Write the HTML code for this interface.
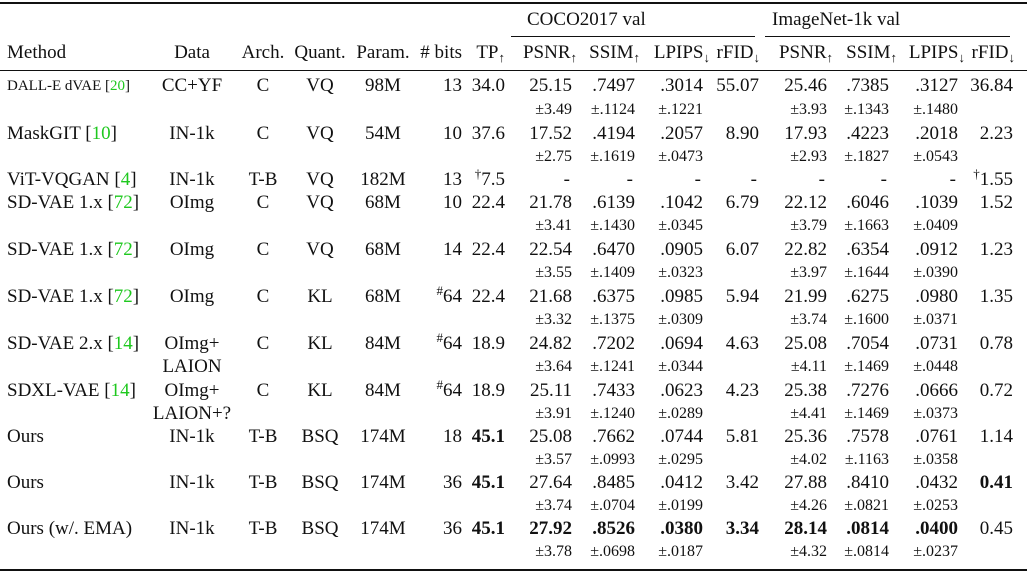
<!DOCTYPE html>
<html><head><meta charset="utf-8"><style>
body{margin:0;background:#fff;width:1027px;height:573px;position:relative;overflow:hidden;font-family:"Liberation Serif",serif;color:#111;}
.rule{position:absolute;background:#111;}
.row{position:absolute;left:0;width:1027px;height:0;}
.row div{position:absolute;top:-11px;height:22px;line-height:22px;white-space:nowrap;font-size:19px;}
.pm div{font-size:16px;}
.m{left:7px}
.da{left:192px;transform:translateX(-50%)}
.ar{left:263px;transform:translateX(-50%)}
.qu{left:320px;transform:translateX(-50%)}
.pa{left:383px;transform:translateX(-50%)}
.bi{right:565px}.tp{right:522px}
.a1{right:455px}.a2{right:392px}.a3{right:324px}.a4{right:268px}
.b1{right:200px}.b2{right:138px}.b3{right:69px}.b4{right:14px}
.g{color:#1ec81e}
b{font-weight:bold}
sub,sup{line-height:0;position:relative;vertical-align:baseline}
sub{font-size:13px;top:4px}
sup{font-size:13px;top:-7px}
.sm{font-size:15px !important}
</style></head><body>
<div class="rule" style="left:0;top:2px;width:1027px;height:2px"></div>
<div class="rule" style="left:511px;top:36px;width:244px;height:1px"></div>
<div class="rule" style="left:765px;top:36px;width:245px;height:1px"></div>
<div class="rule" style="left:0;top:70px;width:1027px;height:1px"></div>
<div class="rule" style="left:0;top:569px;width:1027px;height:2px"></div>

<div class="row" style="top:20px"><div style="left:527px">COCO2017 val</div><div style="left:772px">ImageNet-1k val</div></div>
<div class="row" style="top:53px">
<div class="m">Method</div><div class="da">Data</div><div class="ar">Arch.</div><div class="qu">Quant.</div><div class="pa">Param.</div><div class="bi"># bits</div><div class="tp">TP<sub>↑</sub></div>
<div style="right:450px">PSNR<sub>↑</sub></div><div style="right:387px">SSIM<sub>↑</sub></div><div style="right:317px">LPIPS<sub>↓</sub></div><div style="right:267px">rFID<sub>↓</sub></div>
<div style="right:194px">PSNR<sub>↑</sub></div><div style="right:130px">SSIM<sub>↑</sub></div><div style="right:62px">LPIPS<sub>↓</sub></div><div style="right:12px">rFID<sub>↓</sub></div>
</div>

<div class="row" style="top:86px"><div class="m sm">DALL-E dVAE [<span class="g">20</span>]</div><div class="da">CC+YF</div><div class="ar">C</div><div class="qu">VQ</div><div class="pa">98M</div><div class="bi">13</div><div class="tp">34.0</div>
<div class="a1">25.15</div><div class="a2">.7497</div><div class="a3">.3014</div><div class="a4">55.07</div><div class="b1">25.46</div><div class="b2">.7385</div><div class="b3">.3127</div><div class="b4">36.84</div></div>
<div class="row pm" style="top:110px"><div class="a1">±3.49</div><div class="a2">±.1124</div><div class="a3">±.1221</div><div class="b1">±3.93</div><div class="b2">±.1343</div><div class="b3">±.1480</div></div>

<div class="row" style="top:134px"><div class="m">MaskGIT [<span class="g">10</span>]</div><div class="da">IN-1k</div><div class="ar">C</div><div class="qu">VQ</div><div class="pa">54M</div><div class="bi">10</div><div class="tp">37.6</div>
<div class="a1">17.52</div><div class="a2">.4194</div><div class="a3">.2057</div><div class="a4">8.90</div><div class="b1">17.93</div><div class="b2">.4223</div><div class="b3">.2018</div><div class="b4">2.23</div></div>
<div class="row pm" style="top:157px"><div class="a1">±2.75</div><div class="a2">±.1619</div><div class="a3">±.0473</div><div class="b1">±2.93</div><div class="b2">±.1827</div><div class="b3">±.0543</div></div>

<div class="row" style="top:180px"><div class="m">ViT-VQGAN [<span class="g">4</span>]</div><div class="da">IN-1k</div><div class="ar">T-B</div><div class="qu">VQ</div><div class="pa">182M</div><div class="bi">13</div><div class="tp"><sup>†</sup>7.5</div>
<div style="right:457px">-</div><div style="right:394px">-</div><div style="right:326px">-</div><div style="right:270px">-</div><div style="right:202px">-</div><div style="right:140px">-</div><div style="right:71px">-</div><div class="b4"><sup>†</sup>1.55</div></div>

<div class="row" style="top:203px"><div class="m">SD-VAE 1.x [<span class="g">72</span>]</div><div class="da">OImg</div><div class="ar">C</div><div class="qu">VQ</div><div class="pa">68M</div><div class="bi">10</div><div class="tp">22.4</div>
<div class="a1">21.78</div><div class="a2">.6139</div><div class="a3">.1042</div><div class="a4">6.79</div><div class="b1">22.12</div><div class="b2">.6046</div><div class="b3">.1039</div><div class="b4">1.52</div></div>
<div class="row pm" style="top:226px"><div class="a1">±3.41</div><div class="a2">±.1430</div><div class="a3">±.0345</div><div class="b1">±3.79</div><div class="b2">±.1663</div><div class="b3">±.0409</div></div>

<div class="row" style="top:250px"><div class="m">SD-VAE 1.x [<span class="g">72</span>]</div><div class="da">OImg</div><div class="ar">C</div><div class="qu">VQ</div><div class="pa">68M</div><div class="bi">14</div><div class="tp">22.4</div>
<div class="a1">22.54</div><div class="a2">.6470</div><div class="a3">.0905</div><div class="a4">6.07</div><div class="b1">22.82</div><div class="b2">.6354</div><div class="b3">.0912</div><div class="b4">1.23</div></div>
<div class="row pm" style="top:273px"><div class="a1">±3.55</div><div class="a2">±.1409</div><div class="a3">±.0323</div><div class="b1">±3.97</div><div class="b2">±.1644</div><div class="b3">±.0390</div></div>

<div class="row" style="top:297px"><div class="m">SD-VAE 1.x [<span class="g">72</span>]</div><div class="da">OImg</div><div class="ar">C</div><div class="qu">KL</div><div class="pa">68M</div><div class="bi"><sup>#</sup>64</div><div class="tp">22.4</div>
<div class="a1">21.68</div><div class="a2">.6375</div><div class="a3">.0985</div><div class="a4">5.94</div><div class="b1">21.99</div><div class="b2">.6275</div><div class="b3">.0980</div><div class="b4">1.35</div></div>
<div class="row pm" style="top:320px"><div class="a1">±3.32</div><div class="a2">±.1375</div><div class="a3">±.0309</div><div class="b1">±3.74</div><div class="b2">±.1600</div><div class="b3">±.0371</div></div>

<div class="row" style="top:344px"><div class="m">SD-VAE 2.x [<span class="g">14</span>]</div><div class="da">OImg+</div><div class="ar">C</div><div class="qu">KL</div><div class="pa">84M</div><div class="bi"><sup>#</sup>64</div><div class="tp">18.9</div>
<div class="a1">24.82</div><div class="a2">.7202</div><div class="a3">.0694</div><div class="a4">4.63</div><div class="b1">25.08</div><div class="b2">.7054</div><div class="b3">.0731</div><div class="b4">0.78</div></div>
<div class="row" style="top:367px"><div class="da">LAION</div></div>
<div class="row pm" style="top:367px"><div class="a1">±3.64</div><div class="a2">±.1241</div><div class="a3">±.0344</div><div class="b1">±4.11</div><div class="b2">±.1469</div><div class="b3">±.0448</div></div>

<div class="row" style="top:391px"><div class="m">SDXL-VAE [<span class="g">14</span>]</div><div class="da">OImg+</div><div class="ar">C</div><div class="qu">KL</div><div class="pa">84M</div><div class="bi"><sup>#</sup>64</div><div class="tp">18.9</div>
<div class="a1">25.11</div><div class="a2">.7433</div><div class="a3">.0623</div><div class="a4">4.23</div><div class="b1">25.38</div><div class="b2">.7276</div><div class="b3">.0666</div><div class="b4">0.72</div></div>
<div class="row" style="top:414px"><div class="da">LAION+?</div></div>
<div class="row pm" style="top:414px"><div class="a1">±3.91</div><div class="a2">±.1240</div><div class="a3">±.0289</div><div class="b1">±4.41</div><div class="b2">±.1469</div><div class="b3">±.0373</div></div>

<div class="row" style="top:437px"><div class="m">Ours</div><div class="da">IN-1k</div><div class="ar">T-B</div><div class="qu">BSQ</div><div class="pa">174M</div><div class="bi">18</div><div class="tp"><b>45.1</b></div>
<div class="a1">25.08</div><div class="a2">.7662</div><div class="a3">.0744</div><div class="a4">5.81</div><div class="b1">25.36</div><div class="b2">.7578</div><div class="b3">.0761</div><div class="b4">1.14</div></div>
<div class="row pm" style="top:460px"><div class="a1">±3.57</div><div class="a2">±.0993</div><div class="a3">±.0295</div><div class="b1">±4.02</div><div class="b2">±.1163</div><div class="b3">±.0358</div></div>

<div class="row" style="top:483px"><div class="m">Ours</div><div class="da">IN-1k</div><div class="ar">T-B</div><div class="qu">BSQ</div><div class="pa">174M</div><div class="bi">36</div><div class="tp"><b>45.1</b></div>
<div class="a1">27.64</div><div class="a2">.8485</div><div class="a3">.0412</div><div class="a4">3.42</div><div class="b1">27.88</div><div class="b2">.8410</div><div class="b3">.0432</div><div class="b4"><b>0.41</b></div></div>
<div class="row pm" style="top:506px"><div class="a1">±3.74</div><div class="a2">±.0704</div><div class="a3">±.0199</div><div class="b1">±4.26</div><div class="b2">±.0821</div><div class="b3">±.0253</div></div>

<div class="row" style="top:529px"><div class="m">Ours (w/. EMA)</div><div class="da">IN-1k</div><div class="ar">T-B</div><div class="qu">BSQ</div><div class="pa">174M</div><div class="bi">36</div><div class="tp"><b>45.1</b></div>
<div class="a1"><b>27.92</b></div><div class="a2"><b>.8526</b></div><div class="a3"><b>.0380</b></div><div class="a4"><b>3.34</b></div><div class="b1"><b>28.14</b></div><div class="b2"><b>.0814</b></div><div class="b3"><b>.0400</b></div><div class="b4">0.45</div></div>
<div class="row pm" style="top:552px"><div class="a1">±3.78</div><div class="a2">±.0698</div><div class="a3">±.0187</div><div class="b1">±4.32</div><div class="b2">±.0814</div><div class="b3">±.0237</div></div>
</body></html>
